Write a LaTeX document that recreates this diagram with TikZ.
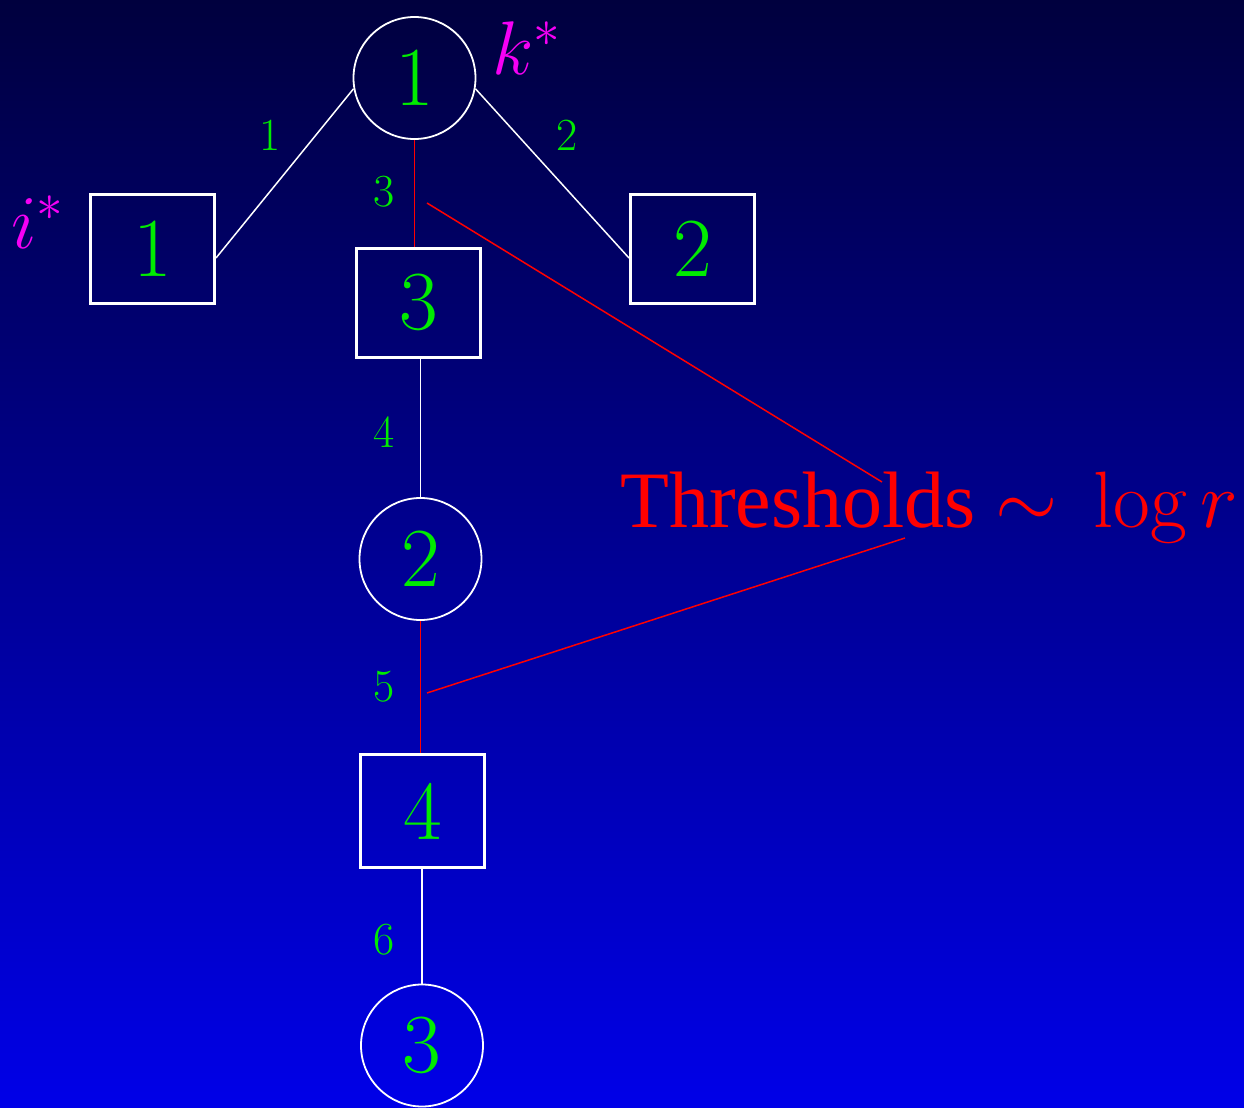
\RequirePackage{fix-cm}
\documentclass[tikz,border=0pt]{standalone}
\usepackage{fontspec}
\newfontfamily\timesfont{Liberation Serif}
\definecolor{bgtop}{RGB}{0,0,62}
\definecolor{bgbot}{RGB}{0,0,232}
\definecolor{digitgreen}{RGB}{0,236,0}
\definecolor{labmag}{RGB}{245,0,245}
\definecolor{thred}{RGB}{255,0,0}
\begin{document}
\begin{tikzpicture}[x=0.5pt,y=-0.5pt,
  circ/.style={circle, draw=white, line width=0.9pt, minimum size=61pt, inner sep=0pt,
    text=digitgreen, font=\fontsize{42}{42}\selectfont},
  sqbox/.style={rectangle, draw=white, line width=1.5pt, minimum width=62pt, minimum height=54.5pt,
    inner sep=0pt, text=digitgreen, font=\fontsize{42}{42}\selectfont},
  elab/.style={text=digitgreen, font=\fontsize{23}{23}\selectfont, inner sep=0pt},
  mlab/.style={text=labmag, font=\fontsize{38}{38}\selectfont, inner sep=0pt},
  wline/.style={draw=white, line width=0.75pt},
  rline/.style={draw=thred, line width=0.75pt}]
\shade[top color=bgtop, bottom color=bgbot] (0,0) rectangle (1244,1108);
\useasboundingbox (0,0) rectangle (1244,1108);
% nodes
\node[circ] (c1) at (414.5,78) {1};
\node[sqbox] (b1) at (152.5,249) {1};
\node[sqbox] (b2) at (692.5,249) {2};
\node[sqbox] (b3) at (418.5,302.5) {3};
\node[circ] (c2) at (420.5,559) {2};
\node[sqbox, minimum height=56.5pt] (b4) at (422.5,811) {4};
\node[circ] (c3) at (422,1045.5) {3};
% labels
\node[mlab] (istar) at (38,222) {$i^*$};
\node[mlab] (kstar) at (527,48) {$k^*$};
\node[elab] (e1) at (270,135) {1};
\node[elab] (e2) at (567,135) {2};
\node[elab] (e3) at (384,192) {3};
\node[elab] (e4) at (384,432) {4};
\node[elab] (e5) at (384,687) {5};
\node[elab] (e6) at (384,940) {6};
\node[text=thred, anchor=base west, inner sep=0pt, font=\fontsize{40}{40}\selectfont]
  (thr) at (620,527) {\timesfont Thresholds $\sim\,\log r$};
% edges
\draw[wline] (c1.190) -- ([yshift=-4.5pt]b1.east);
\draw[wline] (c1.350) -- ([yshift=-4.5pt]b2.west);
\draw[rline] (c1.south) -- (c1.south |- b3.north);
\draw[wline] (b3.south -| c2.north) -- (c2.north);
\draw[rline] (c2.south) -- (c2.south |- b4.north);
\draw[wline] (b4.south -| c3.north) -- (c3.north);
% threshold pointers
\coordinate (p1) at (427,203);
\coordinate (p2) at (882,482);
\coordinate (p3) at (427,693);
\coordinate (p4) at (905,538);
\draw[rline] (p1) -- (p2);
\draw[rline] (p3) -- (p4);
\end{tikzpicture}
\end{document}
